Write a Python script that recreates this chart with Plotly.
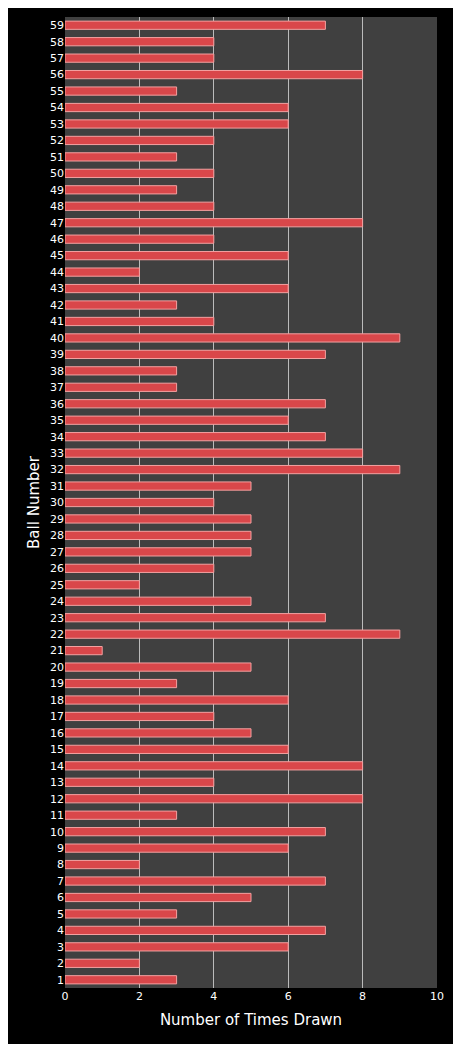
import plotly.graph_objects as go

balls = list(range(1, 60))
times_drawn = [3, 2, 6, 7, 3, 5, 7, 2, 6, 7,
               3, 8, 4, 8, 6, 5, 4, 6, 3, 5,
               1, 9, 7, 5, 2, 4, 5, 5, 5, 4,
               5, 9, 8, 7, 6, 7, 3, 3, 7, 9,
               4, 3, 6, 2, 6, 4, 8, 4, 3, 4,
               3, 4, 6, 6, 3, 8, 4, 4, 7]

fig = go.Figure(go.Bar(
    x=times_drawn, y=balls, orientation="h",
    marker=dict(color="#d9474a", line=dict(color="#f3a0a0", width=1)),
    width=0.5,
))
# page body has an 8px margin, so the figure is sized down to fit the window
fig.update_layout(
    width=445, height=1036,
    paper_bgcolor="black", plot_bgcolor="#404040",
    margin=dict(l=57, r=13, t=9, b=56),
    font=dict(family="DejaVu Sans", color="white", size=11),
    showlegend=False,
)
fig.update_xaxes(range=[0, 10], dtick=2, showgrid=True, gridcolor="#bbbbbb",
                 gridwidth=1, zeroline=False,
                 title=dict(text="Number of Times Drawn", font=dict(size=15), standoff=12))
fig.update_yaxes(range=[0.5, 59.5], tickmode="array", tickvals=balls,
                 showgrid=False, zeroline=False,
                 title=dict(text="Ball Number", font=dict(size=15), standoff=6))
fig.write_html("out.html")
